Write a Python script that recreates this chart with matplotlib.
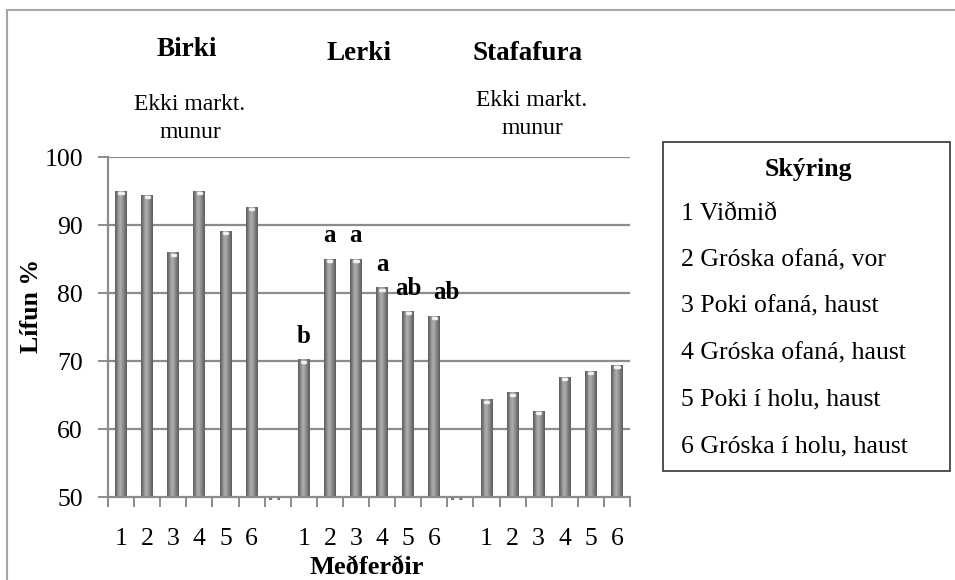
import matplotlib.pyplot as plt
import numpy as np
from matplotlib.patches import Rectangle

# Survival per treatment
species = ["Birki", "Lerki", "Stafafura"]
birki = [95.0, 94.4, 85.9, 95.0, 89.1, 92.6]
lerki = [70.2, 85.0, 85.0, 80.8, 77.3, 76.6]
stafafura = [64.3, 65.3, 62.6, 67.6, 68.5, 69.4]
treatments = ["1", "2", "3", "4", "5", "6"]
lerki_letters = ["b", "a", "a", "a", "ab", "ab"]
note_lines = ["Ekki markt.", "munur"]
legend_title = "Skýring"
legend_items = ["1 Viðmið", "2 Gróska ofaná, vor", "3 Poki ofaná, haust",
                "4 Gróska ofaná, haust", "5 Poki í holu, haust", "6 Gróska í holu, haust"]

W, H = 955, 580
plt.rcParams["font.family"] = ["Liberation Serif", "DejaVu Serif"]


def fx(px):
    return px / W


def fy(py):
    return 1 - py / H


fig = plt.figure(figsize=(W / 100, H / 100), dpi=100)
fig.patches.append(Rectangle((fx(7), fy(620)), fx(1000), fy(10) - fy(620),
                             transform=fig.transFigure, fill=False,
                             edgecolor="#a6a6a6", lw=1.5))

ax = fig.add_axes([fx(108), fy(497), fx(630) - fx(108), fy(157) - fy(497)])

# build category axis: 6 bars, gap, 6 bars, gap, 6 bars
groups = [birki, lerki, stafafura]
values, labels, gaps = [], [], []
for gi, g in enumerate(groups):
    if gi > 0:
        gaps.append(len(values))
        values.append(None)
        labels.append("")
    values.extend(g)
    labels.extend(treatments)
xpos = np.arange(len(values))

grid_c = "#8c8c8c"
for yv in [60, 70, 80, 90, 100]:
    ax.axhline(yv, color=grid_c, lw=1.6, zorder=0)

# cylinder-like bars via horizontal gradient
shade = np.array([0.38, 0.46, 0.56, 0.64, 0.68, 0.64, 0.57, 0.50, 0.44, 0.38])
grad = shade[np.newaxis, :]
bw = 0.45
for x, v in zip(xpos, values):
    if v is None:
        continue
    ax.imshow(grad, cmap="gray", vmin=0, vmax=1, aspect="auto",
              extent=[x - bw / 2, x + bw / 2, 50, v], zorder=2,
              interpolation="bicubic")
    ax.plot([x - 0.06, x + 0.06], [v - 0.3, v - 0.3],
            color="#f0f0f0", lw=2.5, zorder=3, solid_capstyle="round")

for g in gaps:
    ax.plot([g - 0.35, g + 0.1], [49.75, 49.75], color="#777777", lw=1.5,
            ls=(0, (1.5, 2.5)), clip_on=False, zorder=4)

# significance letters for Lerki
lerki_start = 7
for i, (v, lab) in enumerate(zip(lerki, lerki_letters)):
    dx = 9 if i == 5 else 0
    ax.annotate(lab, (lerki_start + i, v), xytext=(dx, 12), textcoords="offset points",
                ha="center", va="baseline", fontsize=18, fontweight="bold")

ax.set_xlim(-0.5, len(values) - 0.5)
ax.set_ylim(50, 100)
ax.set_yticks([50, 60, 70, 80, 90, 100])
ax.set_xticks(xpos)
ax.set_xticklabels(labels)
ax.set_xticks(np.arange(-0.5, len(values)), minor=True)
ax.tick_params(axis="x", which="major", length=0, pad=22.5, labelsize=18.5)
ax.tick_params(axis="x", which="minor", length=7, color=grid_c, width=1.4)
ax.tick_params(axis="y", length=7, color=grid_c, width=1.4, pad=11, labelsize=18.5)
for s in ["top", "right"]:
    ax.spines[s].set_visible(False)
for s in ["left", "bottom"]:
    ax.spines[s].set_color(grid_c)
    ax.spines[s].set_linewidth(1.6)

fig.text(fx(32), fy(306), "Lífun %", ha="center", va="center", rotation=90,
         fontsize=18.5, fontweight="bold")
fig.text(fx(367), fy(567), "Meðferðir", ha="center", va="center",
         fontsize=19, fontweight="bold")

# group headings
fig.text(fx(187), fy(50), species[0], ha="center", va="center", fontsize=19.5, fontweight="bold")
fig.text(fx(359), fy(53), species[1], ha="center", va="center", fontsize=19.5, fontweight="bold")
fig.text(fx(528), fy(54), species[2], ha="center", va="center", fontsize=19.5, fontweight="bold")
for cx, cy in [(190, 104), (532, 100)]:
    fig.text(fx(cx), fy(cy), note_lines[0], ha="center", va="center", fontsize=17)
    fig.text(fx(cx), fy(cy + 29), note_lines[1], ha="center", va="center", fontsize=17)

# legend box
fig.patches.append(Rectangle((fx(663), fy(471)), fx(950) - fx(663), fy(142) - fy(471),
                             transform=fig.transFigure, fill=False,
                             edgecolor="#333333", lw=1.2))
fig.text(fx(808), fy(169), legend_title, ha="center", va="center", fontsize=18.5, fontweight="bold")
for k, item in enumerate(legend_items):
    fig.text(fx(681), fy(214 + k * 46.4), item, ha="left", va="center", fontsize=18.5)

fig.savefig("out.png", dpi=100)
